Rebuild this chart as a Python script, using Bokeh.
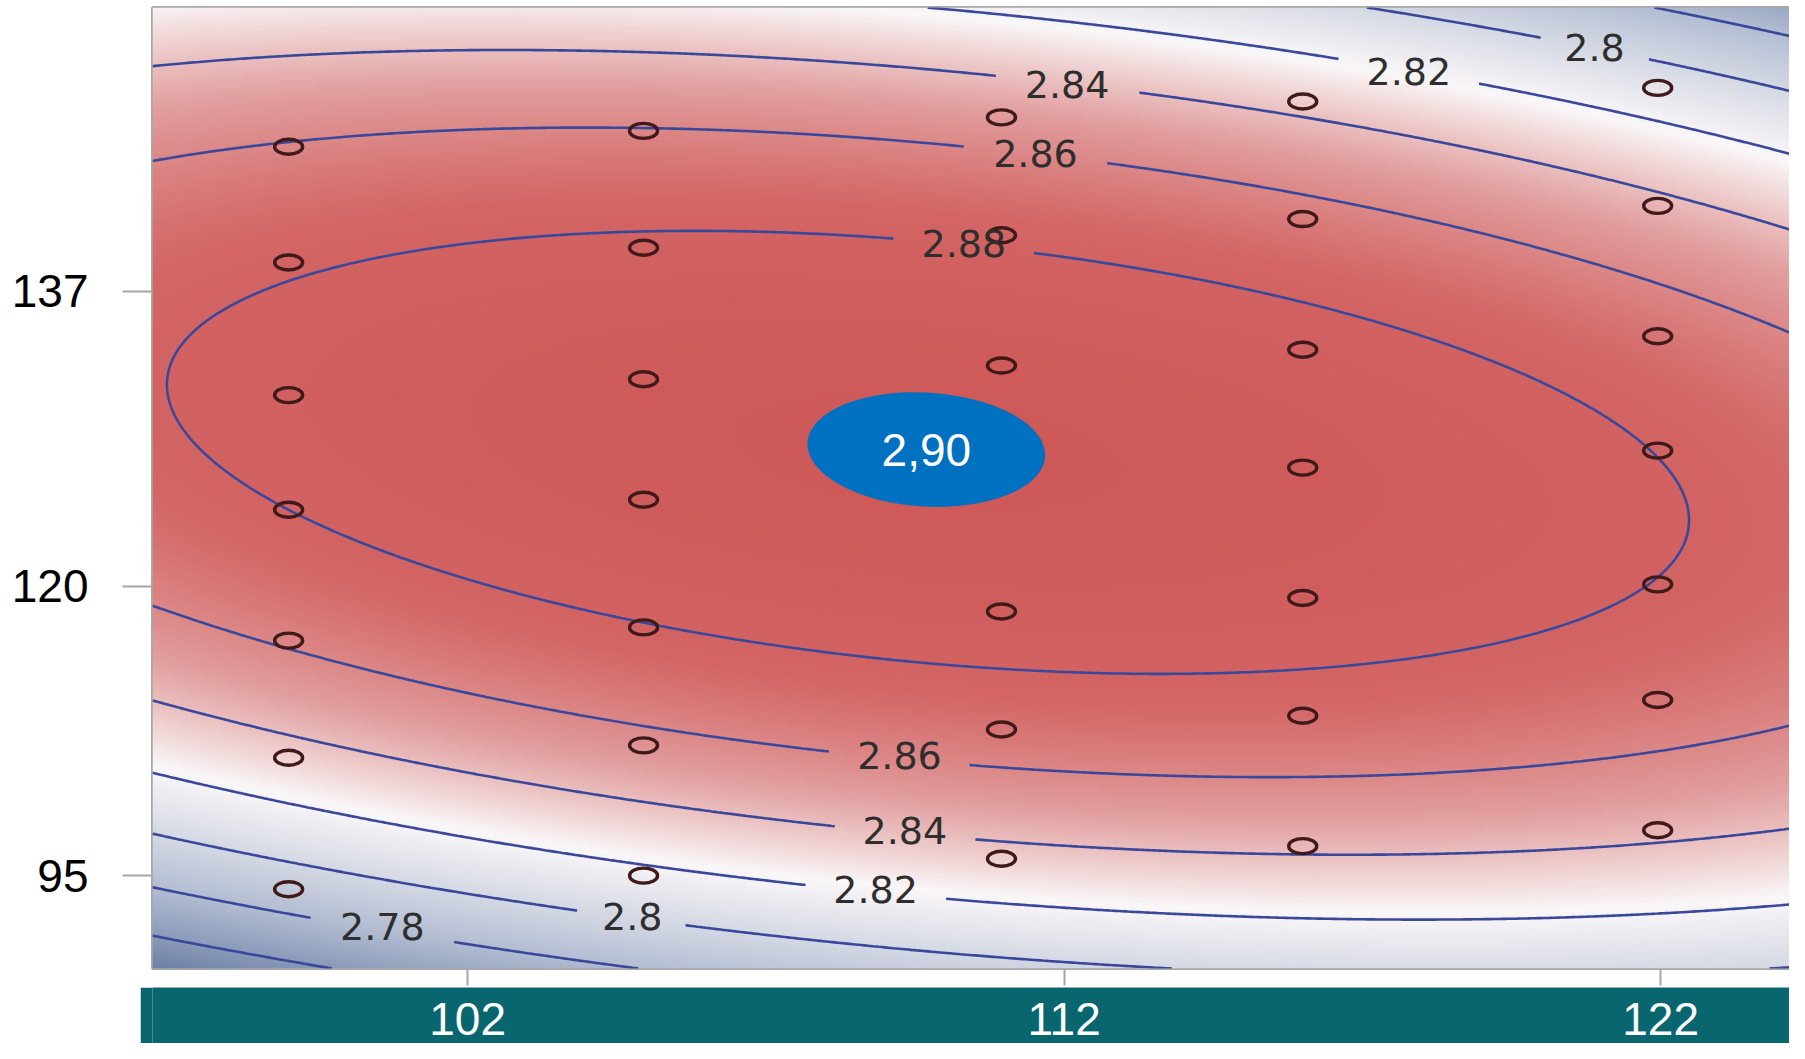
import numpy as np
import contourpy
from bokeh.plotting import figure
from bokeh.models import LinearColorMapper, FixedTicker, Range1d, Spacer
from bokeh.layouts import column, row
from bokeh.core.properties import value
from bokeh.embed import file_html
from bokeh.resources import INLINE

# ---------------- data ----------------
x_ticks = [102, 112, 122]
x_tick_labels = ["102", "112", "122"]
# the printed y labels are not evenly spaced; positions on the internal (linear) y scale
y_ticks = [137.0, 115.79, 95.0]
y_tick_labels = ["137", "120", "95"]

# design points (circles), column by column
design_x = [99.0, 99.0, 99.0, 99.0, 99.0, 99.0, 99.0,
            104.95, 104.95, 104.95, 104.95, 104.95, 104.95, 104.95,
            110.95, 110.95, 110.95, 110.95, 110.95, 110.95, 110.95,
            116.0, 116.0, 116.0, 116.0, 116.0, 116.0, 116.0,
            121.95, 121.95, 121.95, 121.95, 121.95, 121.95, 121.95]
design_y = [147.36, 139.05, 129.53, 121.30, 111.90, 103.49, 94.05,
            148.50, 140.11, 130.67, 122.01, 112.85, 104.38, 95.02,
            149.47, 141.01, 131.65, 123.21, 113.99, 105.52, 96.24,
            150.61, 142.17, 132.79, 124.32, 114.96, 106.50, 97.14,
            151.59, 143.12, 133.76, 125.54, 115.94, 107.64, 98.28]

# points read along each contour line of the response surface
c288_x = [97.00, 97.55, 98.99, 101.07, 104.23, 107.56, 109.33, 111.68, 116.53, 119.16, 121.98,
          122.51, 121.98, 120.04, 115.47, 112.13, 110.45, 104.94, 101.58, 98.99, 97.55, 97.00]
c288_y = [130.28, 135.23, 137.85, 139.97, 141.10, 141.10, 140.68, 139.69, 135.94, 131.91, 125.55,
          120.60, 115.93, 112.39, 109.64, 109.64, 110.13, 112.82, 116.85, 121.09, 124.41, 128.37]
c286_x = [96.75, 98.99, 102.03, 105.80, 110.45, 112.75, 116.00, 121.98, 124.16,
          124.16, 120.92, 117.23, 113.89, 110.45, 108.01, 98.99, 96.75]
c286_y = [146.33, 147.39, 148.67, 148.67, 147.25, 146.33, 143.72, 137.35, 134.31,
          105.75, 103.91, 102.14, 102.14, 103.20, 103.98, 111.76, 114.52]
c284_x = [96.75, 100.36, 104.76, 110.45, 113.18, 116.00, 121.98, 124.16,
          124.16, 121.98, 118.81, 114.94, 110.64, 108.28, 104.94, 96.75]
c284_y = [153.05, 154.25, 154.25, 152.56, 151.00, 149.73, 143.15, 141.38,
          98.47, 97.26, 96.56, 96.56, 97.62, 98.47, 100.37, 107.66]
c282_x = [110.21, 116.70, 118.99, 124.16, 124.16, 118.81, 117.76, 110.04, 104.94, 96.75]
c282_y = [157.15, 153.62, 151.99, 146.76, 93.02, 91.75, 91.75, 93.30, 95.07, 102.35]
c280_x = [117.40, 120.04, 121.80, 124.16, 113.79, 110.45, 105.72, 103.96, 96.75]
c280_y = [157.15, 155.24, 153.62, 151.49, 88.43, 89.49, 91.61, 92.60, 97.97]
c278_x = [122.15, 124.16, 104.76, 101.77, 99.48, 96.75]
c278_y = [157.15, 155.52, 88.43, 90.33, 91.96, 94.08]
c276_x = [99.66, 96.75]
c276_y = [88.43, 90.69]

levels = [2.76, 2.78, 2.80, 2.82, 2.84, 2.86, 2.88]

# contour labels
label_x = [100.57, 104.76, 108.84, 109.33, 109.24, 110.32, 111.52, 112.05, 117.78, 120.89]
label_y = [91.40, 92.10, 94.01, 98.25, 103.63, 140.39, 146.90, 151.85, 152.77, 154.46]
label_level = [2.78, 2.80, 2.82, 2.84, 2.86, 2.88, 2.86, 2.84, 2.82, 2.80]
label_text = ["2.78", "2.8", "2.82", "2.84", "2.86", "2.88", "2.86", "2.84", "2.82", "2.8"]

# annotated optimum
peak_x = [109.69]
peak_y = [125.62]
peak_text = ["2,90"]

# ---------------- layout / style ----------------
FRAME_LEFT, FRAME_TOP = 152, 7
FRAME_W, FRAME_H = 1637, 961
BOTTOM_BORDER = 19
BAND_LEFT, BAND_H = 140, 56
X_START, X_END = 96.718, 124.16
Y_BOTTOM, Y_TOP = 88.354, 157.363
Z_LOW, Z_HIGH = 2.74, 2.90
TEAL = "#09666F"
LINE_BLUE = "#3A489C"

# fit a quadratic response surface to the contour samples
samples = [(2.76, c276_x, c276_y), (2.78, c278_x, c278_y), (2.80, c280_x, c280_y),
           (2.82, c282_x, c282_y), (2.84, c284_x, c284_y), (2.86, c286_x, c286_y),
           (2.88, c288_x, c288_y)]
SX = np.concatenate([np.asarray(sx, float) for _, sx, _ in samples])
SY = np.concatenate([np.asarray(sy, float) for _, _, sy in samples])
SZ = np.concatenate([np.full(len(sx), lev) for lev, sx, _ in samples])


def basis(x, y):
    u = x - 110.0
    v = y - 123.0
    return np.stack([np.ones_like(u), u, v, u * u, u * v, v * v], axis=-1)


coef, *_ = np.linalg.lstsq(basis(SX, SY), SZ, rcond=None)

gx = np.linspace(X_START, X_END, 560)
gy = np.linspace(Y_BOTTOM, Y_TOP, 380)
GX, GY = np.meshgrid(gx, gy)
GZ = basis(GX, GY) @ coef

# colour palette: slate blue -> white -> red
anchor_z = [2.74, 2.78, 2.822, 2.85, 2.875, 2.90]
anchor_rgb = [(100, 121, 160), (180, 190, 211), (250, 247, 248),
              (226, 158, 158), (212, 102, 102), (206, 88, 88)]
pz = np.linspace(Z_LOW, Z_HIGH, 256)
chan = [np.interp(pz, anchor_z, [c[i] for c in anchor_rgb]) for i in range(3)]
palette = ["#%02x%02x%02x" % (int(r), int(g), int(b)) for r, g, b in zip(*chan)]
mapper = LinearColorMapper(palette=palette, low=Z_LOW, high=Z_HIGH)

p = figure(frame_width=FRAME_W, frame_height=FRAME_H,
           x_range=Range1d(X_START, X_END), y_range=Range1d(Y_BOTTOM, Y_TOP),
           min_border_left=FRAME_LEFT, min_border_right=0, min_border_top=FRAME_TOP,
           min_border_bottom=BOTTOM_BORDER, toolbar_location=None, output_backend="svg",
           background_fill_color="white", border_fill_color="white")
p.outline_line_color = "#A8A8A8"
p.outline_line_width = 3
p.grid.visible = False

p.image(image=[GZ], x=X_START, y=Y_BOTTOM, dw=X_END - X_START, dh=Y_TOP - Y_BOTTOM,
        color_mapper=mapper)

# contour lines with gaps where labels sit
sx_px = FRAME_W / (X_END - X_START)
sy_px = FRAME_H / (Y_TOP - Y_BOTTOM)
gen = contourpy.contour_generator(GX, GY, GZ, line_type="Separate")
line_xs, line_ys = [], []
for lev in levels:
    for seg in gen.lines(lev):
        seg = np.asarray(seg)
        keep = np.ones(len(seg), bool)
        for lx, ly, lt, ll in zip(label_x, label_y, label_text, label_level):
            if abs(ll - lev) > 1e-9:
                continue
            half = 17 * len(lt) + 2
            keep &= ~((np.abs((seg[:, 0] - lx) * sx_px) < half) &
                      (np.abs((seg[:, 1] - ly) * sy_px) < 26))
        idx = np.flatnonzero(keep)
        if idx.size == 0:
            continue
        breaks = np.flatnonzero(np.diff(idx) > 1)
        for chunk in np.split(idx, breaks + 1):
            if chunk.size >= 2:
                line_xs.append(seg[chunk, 0].tolist())
                line_ys.append(seg[chunk, 1].tolist())
p.multi_line(xs=line_xs, ys=line_ys, line_color=LINE_BLUE, line_width=2.6)

p.ellipse(x=design_x, y=design_y, width=28, height=15, width_units="screen",
          height_units="screen", fill_color=None, line_color="#401A1A", line_width=3.4)

p.text(x=label_x, y=label_y, text=label_text, text_font=value("DejaVu Sans"),
       text_font_size="38px", text_color="#2E2E2E", text_align="center",
       text_baseline="middle")

p.ellipse(x=peak_x, y=peak_y, width=238, height=114, width_units="screen",
          height_units="screen", angle=-0.06, fill_color="#0070C0", line_color=None)
p.text(x=peak_x, y=peak_y, text=peak_text, text_font=value("Liberation Sans"),
       text_font_size="46px", text_color="white", text_align="center",
       text_baseline="middle")

# axes
p.xaxis.ticker = FixedTicker(ticks=x_ticks)
p.xaxis.major_label_overrides = {t: "" for t in x_ticks}
p.xaxis.major_label_text_font_size = "1px"
p.xaxis.major_label_standoff = 0
p.xaxis.major_tick_out = 17
p.xaxis.major_tick_in = 0
p.xaxis.minor_tick_line_color = None
p.xaxis.axis_line_color = None
p.xaxis.major_tick_line_color = "#A6A6A6"
p.xaxis.major_tick_line_width = 2

p.yaxis.ticker = FixedTicker(ticks=y_ticks)
p.yaxis.major_label_overrides = {t: s for t, s in zip(y_ticks, y_tick_labels)}
p.yaxis.major_label_text_font = "Liberation Sans"
p.yaxis.major_label_text_font_size = "46px"
p.yaxis.major_label_text_color = "black"
p.yaxis.major_label_standoff = 34
p.yaxis.major_tick_out = 30
p.yaxis.major_tick_in = 0
p.yaxis.minor_tick_line_color = None
p.yaxis.axis_line_color = None
p.yaxis.major_tick_line_color = "#A6A6A6"
p.yaxis.major_tick_line_width = 2

# teal band carrying the x labels
LABEL_Y = 25
band = figure(frame_width=FRAME_W, frame_height=BAND_H, x_range=p.x_range,
              y_range=Range1d(0, BAND_H), min_border_left=FRAME_LEFT - BAND_LEFT,
              min_border_right=0, min_border_top=0, min_border_bottom=0,
              x_axis_location=None, y_axis_location=None, toolbar_location=None,
              output_backend="svg", background_fill_color=TEAL, border_fill_color=TEAL,
              outline_line_color=None)
band.grid.visible = False
band.text(x=x_ticks, y=[LABEL_Y] * len(x_ticks), text=x_tick_labels,
          text_font=value("Liberation Sans"), text_font_size="46px", text_color="white",
          text_align="center", text_baseline="middle")

layout = column(p, row(Spacer(width=BAND_LEFT, height=BAND_H), band))
open("out.html", "w").write(file_html(layout, INLINE))
